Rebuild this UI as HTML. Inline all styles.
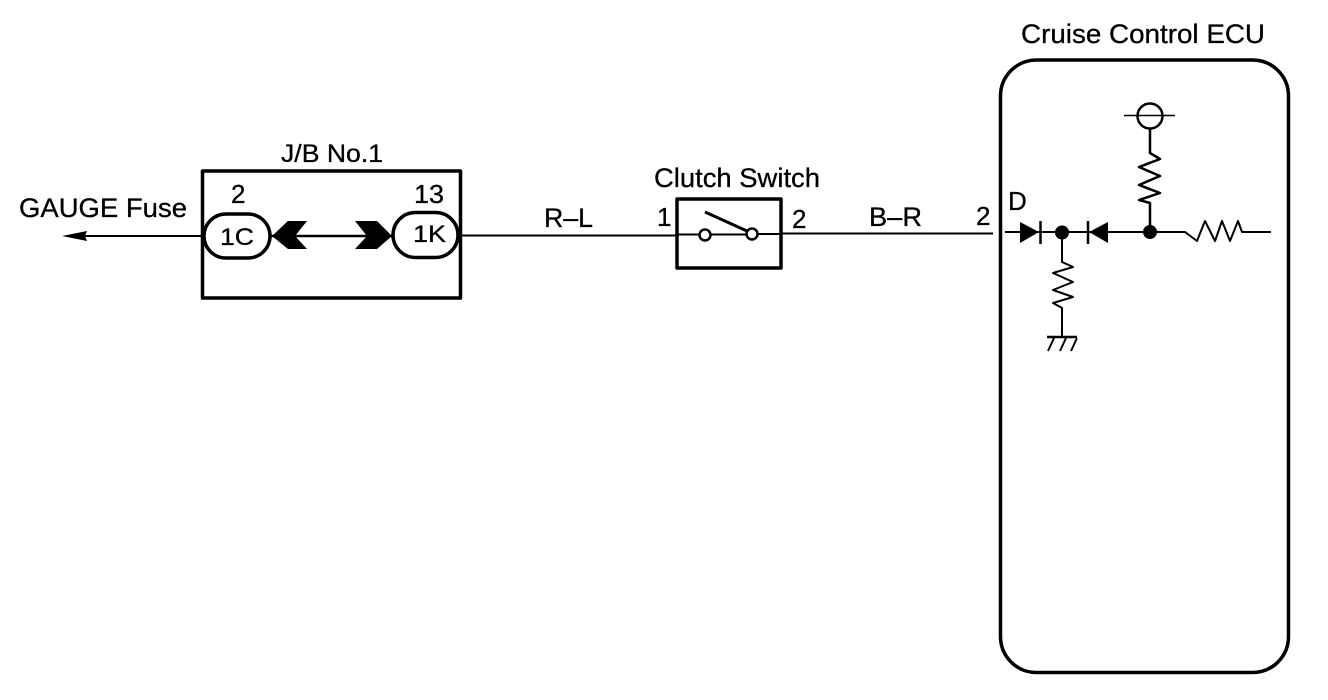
<!DOCTYPE html>
<html>
<head>
<meta charset="utf-8">
<style>
html,body{margin:0;padding:0;background:#fff}
svg{display:block}
text{font-family:"Liberation Sans",sans-serif;fill:#000;font-size:27px;stroke:#000;stroke-width:.3px}
</style>
</head>
<body>
<svg width="1328" height="700" viewBox="0 0 1328 700" xmlns="http://www.w3.org/2000/svg">
<g fill="none" stroke="#000" stroke-linejoin="round">
  <!-- J/B box -->
  <rect x="202.500" y="171" width="258" height="127" stroke-width="3.500"/>
  <!-- wires -->
  <path d="M80 236H203" stroke-width="2"/>
  <path d="M270 236H393" stroke-width="2.500"/>
  <path d="M459 235.500H677" stroke-width="2"/>
  <path d="M677 234.500H699M711 234.500H746M758 234H782" stroke-width="2"/>
  <path d="M782 233.500H993" stroke-width="2"/>
  <!-- pills -->
  <rect x="204" y="214" width="66" height="44" rx="22" stroke-width="3.500"/>
  <rect x="393" y="212.500" width="65" height="45" rx="22.500" stroke-width="3.500"/>
  <!-- switch -->
  <rect x="677" y="199" width="104" height="69" stroke-width="3.500"/>
  <circle cx="705" cy="235" r="5.500" stroke-width="2.500" fill="#fff"/>
  <circle cx="752" cy="234" r="5.500" stroke-width="2.500" fill="#fff"/>
  <path d="M705 212L747 231" stroke-width="3"/>
  <!-- ECU -->
  <rect x="1000.500" y="60" width="288" height="612.500" rx="36" ry="36" stroke-width="3.500"/>
  <!-- ECU circuit -->
  <path d="M1005 232H1185L1197 241L1205 221L1215 241L1222 221L1230 241L1238 221L1242 232H1271" stroke-width="2"/>
  <path d="M1150 232V203L1139 200L1160 193L1139 185L1160 176L1139 167L1160 159L1150 153V127" stroke-width="2.500"/>
  <path d="M1062 232V262L1073 267L1053 273L1073 282L1053 290L1073 297L1053 303L1062 308V337" stroke-width="2"/>
  <circle cx="1150" cy="116" r="12.500" stroke-width="2.500" fill="#fff"/>
  <path d="M1124 115.500H1175" stroke-width="1.500"/>
  <path d="M1047 337H1077" stroke-width="2.500"/>
  <path d="M1054 338L1048 351M1066 338L1060 351M1077 338L1071 351" stroke-width="2"/>
  <path d="M1040.500 221V244M1088 221V244" stroke-width="2.500"/>
</g>
<!-- filled shapes -->
<polygon points="62,236 87,231 85,236 87,241" fill="#000"/>
<polygon points="272,236 288,221 307,221 295,236 307,249 288,249" fill="#000"/>
<polygon points="392,236 377,221 355,221 367,236 355,249 377,249" fill="#000"/>
<polygon points="1020,222 1039,232 1020,243" fill="#000"/>
<polygon points="1089,232 1108,222 1108,243" fill="#000"/>
<circle cx="1062" cy="232.500" r="7" fill="#000"/>
<circle cx="1150" cy="232" r="7" fill="#000"/>
<!-- labels -->
<text x="19" y="217" textLength="168" lengthAdjust="spacingAndGlyphs">GAUGE Fuse</text>
<text x="281" y="162" textLength="102" lengthAdjust="spacingAndGlyphs" style="font-size:25px">J/B No.1</text>
<text x="231" y="203" style="font-size:26px">2</text>
<text x="414" y="203" textLength="30" lengthAdjust="spacingAndGlyphs" style="font-size:26px">13</text>
<text x="220" y="245" textLength="34" lengthAdjust="spacingAndGlyphs" style="font-size:24px">1C</text>
<text x="413" y="242" textLength="33" lengthAdjust="spacingAndGlyphs" style="font-size:24px">1K</text>
<text x="544" y="227" textLength="49" lengthAdjust="spacingAndGlyphs">R–L</text>
<text x="657" y="226" style="font-size:26px">1</text>
<text x="654" y="187" textLength="166" lengthAdjust="spacingAndGlyphs">Clutch Switch</text>
<text x="792" y="228" style="font-size:26px">2</text>
<text x="869" y="226" textLength="53" lengthAdjust="spacingAndGlyphs">B–R</text>
<text x="976" y="225" style="font-size:26px">2</text>
<text x="1008" y="210" style="font-size:26px">D</text>
<text x="1021" y="43" textLength="244" lengthAdjust="spacingAndGlyphs">Cruise Control ECU</text>
</svg>
</body>
</html>
